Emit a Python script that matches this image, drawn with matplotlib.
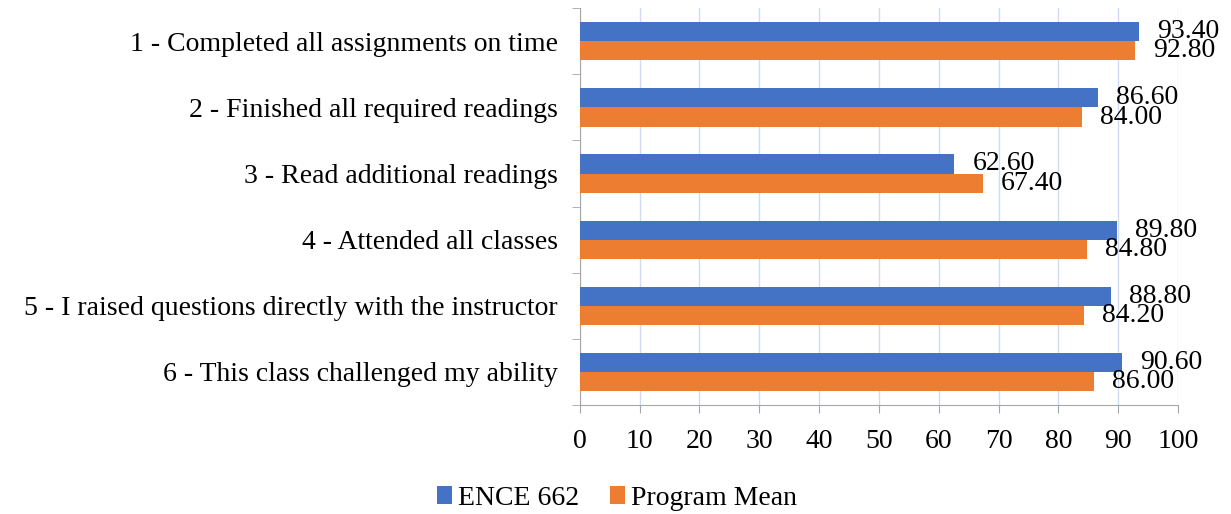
import matplotlib
matplotlib.use("Agg")
import matplotlib.pyplot as plt
import numpy as np

# Survey items and scores
categories = [
    "1 - Completed all assignments on time",
    "2 - Finished all required readings",
    "3 - Read additional readings",
    "4 - Attended all classes",
    "5 - I raised questions directly with the instructor",
    "6 - This class challenged my ability",
]
ence_662 = [93.40, 86.60, 62.60, 89.80, 88.80, 90.60]
program_mean = [92.80, 84.00, 67.40, 84.80, 84.20, 86.00]
x_ticks = [0, 10, 20, 30, 40, 50, 60, 70, 80, 90, 100]

plt.rcParams['font.family'] = ['Liberation Serif', 'DejaVu Serif']

fig = plt.figure(figsize=(12.31, 5.14), dpi=100)
ax = fig.add_axes([0.471, 0.212, 0.486, 0.772])

y = np.arange(len(categories))
h = 0.29
blue = '#4472C4'
orange = '#ED7D31'
b1 = ax.barh(y - h / 2, ence_662, height=h, color=blue, label='ENCE 662', zorder=3)
b2 = ax.barh(y + h / 2, program_mean, height=h, color=orange, label='Program Mean', zorder=3)

for bars, vals in [(b1, ence_662), (b2, program_mean)]:
    for bar, v in zip(bars, vals):
        ax.annotate(f"{v:.2f}", (bar.get_width(), bar.get_y() + bar.get_height() / 2),
                    xytext=(13, 0), textcoords='offset points', va='center', ha='left',
                    fontsize=20, color='black', zorder=4)

ax.set_xlim(0, 100)
ax.set_ylim(len(categories) - 0.5, -0.5)
ax.set_xticks(x_ticks)
ax.tick_params(axis='x', labelsize=20, length=6, color='#a6a6a6', pad=11)

# category labels with tick marks at group boundaries
ax.set_yticks(y)
ax.set_yticklabels(categories, fontsize=20)
ax.tick_params(axis='y', which='major', length=0, pad=16)
ax.set_yticks(np.arange(-0.5, len(categories) + 0.5, 1), minor=True)
ax.tick_params(axis='y', which='minor', length=6, color='#a6a6a6')

ax.grid(axis='x', color='#d0dcf0', linewidth=1, zorder=0)
for s in ['top', 'right']:
    ax.spines[s].set_visible(False)
for s in ['left', 'bottom']:
    ax.spines[s].set_color('#a6a6a6')

ax.legend(loc='center', bbox_to_anchor=(0.062, -0.235), ncol=2, frameon=False,
          fontsize=20, handlelength=0.55, handleheight=0.6, handletextpad=0.2,
          columnspacing=1.1)

plt.savefig('out.png', dpi=100)
